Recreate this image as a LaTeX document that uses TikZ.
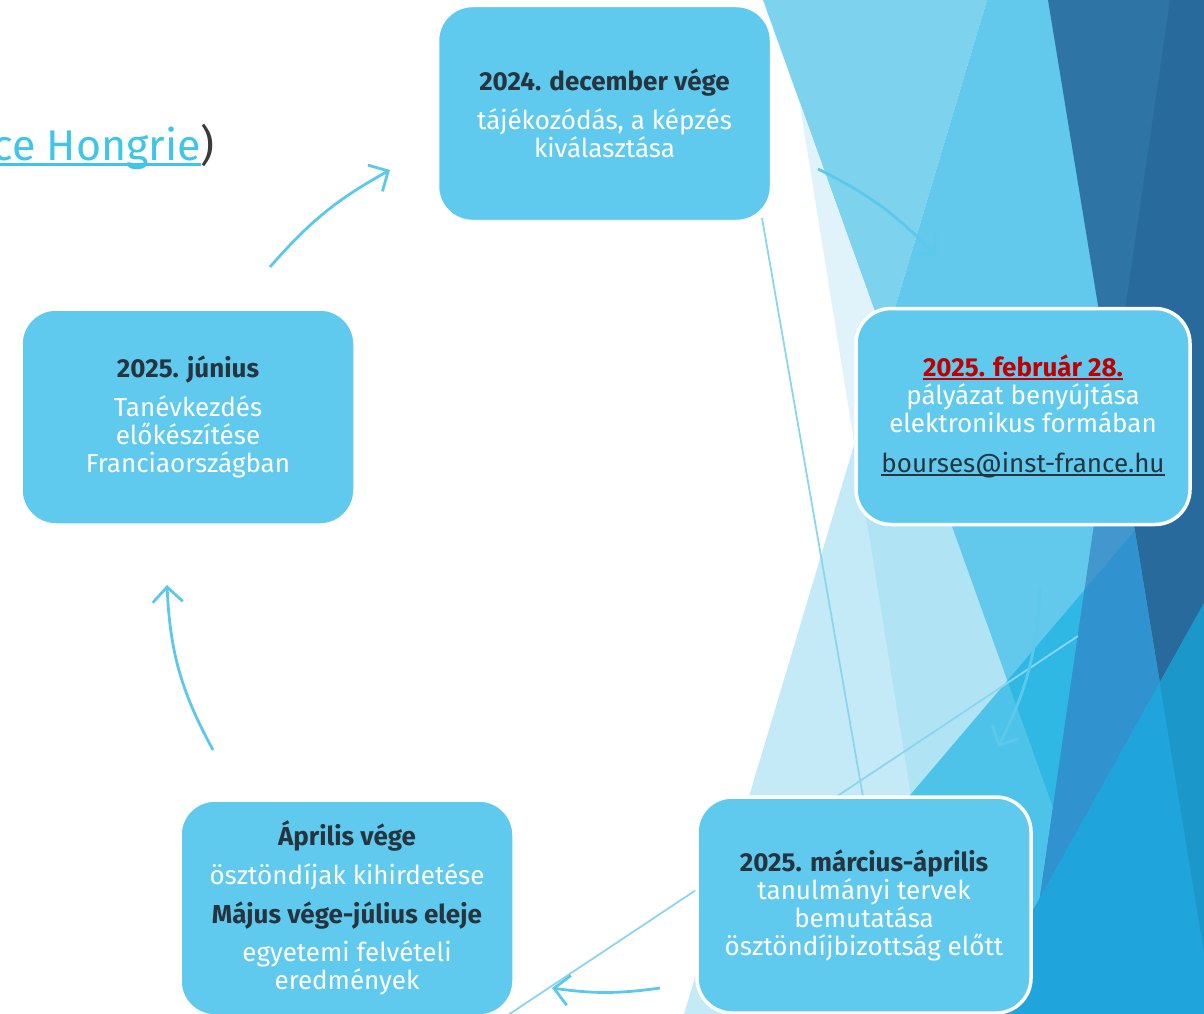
\documentclass[tikz,border=0pt]{standalone}
\usepackage{fontspec}
\setmainfont{Fira Sans}
\usetikzlibrary{arrows.meta}

\definecolor{boxblue}{HTML}{5FCAEE}
\definecolor{arrowblue}{HTML}{5CC8EC}
\definecolor{guideblue}{HTML}{8BD5EF}
\definecolor{textdark}{HTML}{26343F}
\definecolor{textred}{HTML}{C00000}
\definecolor{linkblue}{HTML}{3EC5E8}
\definecolor{parengray}{HTML}{3A3A3A}
% facet colours of the background
\definecolor{clight}{HTML}{7DD3EE}
\definecolor{cpale}{HTML}{E0F3FA}
\definecolor{cpaleb}{HTML}{C5EAF7}
\definecolor{cpalec}{HTML}{B0E4F5}
\definecolor{cmid}{HTML}{62C8EC}
\definecolor{cmidb}{HTML}{4DC3EA}
\definecolor{cbright}{HTML}{2FB8E4}
\definecolor{cdark}{HTML}{2E75A5}
\definecolor{cdarker}{HTML}{276A9B}
\definecolor{csteel}{HTML}{4297CF}
\definecolor{csteelb}{HTML}{3092CE}
\definecolor{cdeep}{HTML}{1FA5DB}
\definecolor{cdeepb}{HTML}{1C97CA}

\newcommand{\halfright}[2]{\clip (#1,0) -- (3000,0) -- (3000,1014) -- (#2,1014) -- cycle;}
\newcommand{\halfleft}[2]{\clip (#1,0) -- (-100,0) -- (-100,1014) -- (#2,1014) -- cycle;}
\newcommand{\facet}[1]{\fill[#1] (0,0) rectangle (1204,1014);}
\newcommand{\linkline}[1]{\leavevmode\setbox0\hbox{#1}\rlap{\rule[-0.14em]{\wd0}{0.075em}}\box0}
\newcommand{\datehead}[1]{\textcolor{textdark}{\bfseries #1}}

\tikzset{
  stepbox/.style={rectangle, rounded corners=35pt, fill=boxblue, draw=white,
    line width=3.5pt, minimum width=334pt, minimum height=216pt,
    align=center, text=white, font=\fontsize{26}{28}\selectfont},
  cyclearrow/.style={draw=arrowblue, line width=2.8pt,
    -{Straight Barb[length=15pt,width=30pt]}},
  guideline/.style={draw=guideblue, line width=1.8pt}
}

\begin{document}
\begin{tikzpicture}[x=1pt,y=-1pt]
\path[use as bounding box] (0,0) rectangle (1204,1014);
\clip (0,0) rectangle (1204,1014);

% background facets
\begin{scope}\halfright{763}{1127}\halfleft{987}{684}\facet{clight}\end{scope}
\begin{scope}\halfright{783}{946}\halfleft{763}{1127}\halfleft{987}{684}\facet{cpale}\end{scope}
\begin{scope}\halfright{987}{684}\halfleft{763}{1127}\facet{cpaleb}\halfright{783}{946}\facet{cpalec}\end{scope}
\begin{scope}\halfright{987}{684}\halfright{763}{1127}\facet{cmid}\end{scope}
\begin{scope}\halfright{1586}{724}\halfleft{763}{1127}\facet{cmidb}\end{scope}
\begin{scope}\halfright{1586}{724}\halfright{763}{1127}\facet{cbright}\end{scope}
\begin{scope}\halfright{1048}{1214}\facet{cdark}\halfright{1170}{1023}\facet{cdarker}\end{scope}
\begin{scope}\halfright{1170}{1023}\halfleft{1048}{1214}\facet{csteel}\halfright{1586}{724}\facet{csteelb}\end{scope}
\begin{scope}\halfright{1540}{975}\facet{cdeep}\halfright{1048}{1214}\facet{cdeepb}\end{scope}

\node[anchor=base east, inner sep=0pt, font=\fontsize{43}{48}\selectfont] (title) at (215,160)
  {\textcolor{linkblue}{\linkline{ce Hongrie}}\textcolor{parengray}{)}};

% thin guide lines
\coordinate (ga1) at (762,218);
\coordinate (ga2) at (863,797);
\coordinate (gb1) at (1078,636);
\coordinate (gb2) at (505,1017);
\draw[guideline] (ga1) -- (ga2);
\draw[guideline] (gb1) -- (gb2);

% cycle arrows
\coordinate (a1s) at (270,267);  \coordinate (a1e) at (390,170);
\coordinate (a2s) at (818,169);  \coordinate (a2e) at (936,256);
\coordinate (a3s) at (1040,588); \coordinate (a3e) at (998,747);
\coordinate (a4s) at (660,988);  \coordinate (a4e) at (552,988);
\coordinate (a5s) at (213,750);  \coordinate (a5e) at (167,585);
\draw[cyclearrow] (a1s) to[bend left=10] (a1e);
\draw[cyclearrow] (a2s) to[bend left=10] (a2e);
\draw[cyclearrow] (a3s) to[bend left=12] (a3e);
\draw[cyclearrow] (a4s) to[bend left=8] (a4e);
\draw[cyclearrow] (a5s) to[bend left=13] (a5e);

% steps
\node[stepbox] (dec) at (604.5,113.5)
  {\datehead{2024. december vége}\\[11pt] tájékozódás, a képzés\\ kiválasztása};
\node[stepbox] (feb) at (1023,416.5)
  {\textcolor{textred}{\bfseries\linkline{2025. február 28.}}\\ pályázat benyújtása\\
   elektronikus formában\\[12pt] \textcolor{textdark}{\linkline{bourses@inst-france.hu}}};
\node[stepbox] (mar) at (864,905)
  {\datehead{2025. március-április}\\ tanulmányi tervek\\ bemutatása\\ ösztöndíjbizottság előtt};
\node[stepbox] (apr) at (347,908)
  {\datehead{Április vége}\\[11pt] ösztöndíjak kihirdetése\\[11pt]
   \datehead{Május vége-július eleje}\\[10pt] egyetemi felvételi\\ eredmények};
\node[stepbox] (jun) at (188,417)
  {\datehead{2025. június}\\[11pt] Tanévkezdés\\ előkészítése\\ Franciaországban};
\end{tikzpicture}
\end{document}
